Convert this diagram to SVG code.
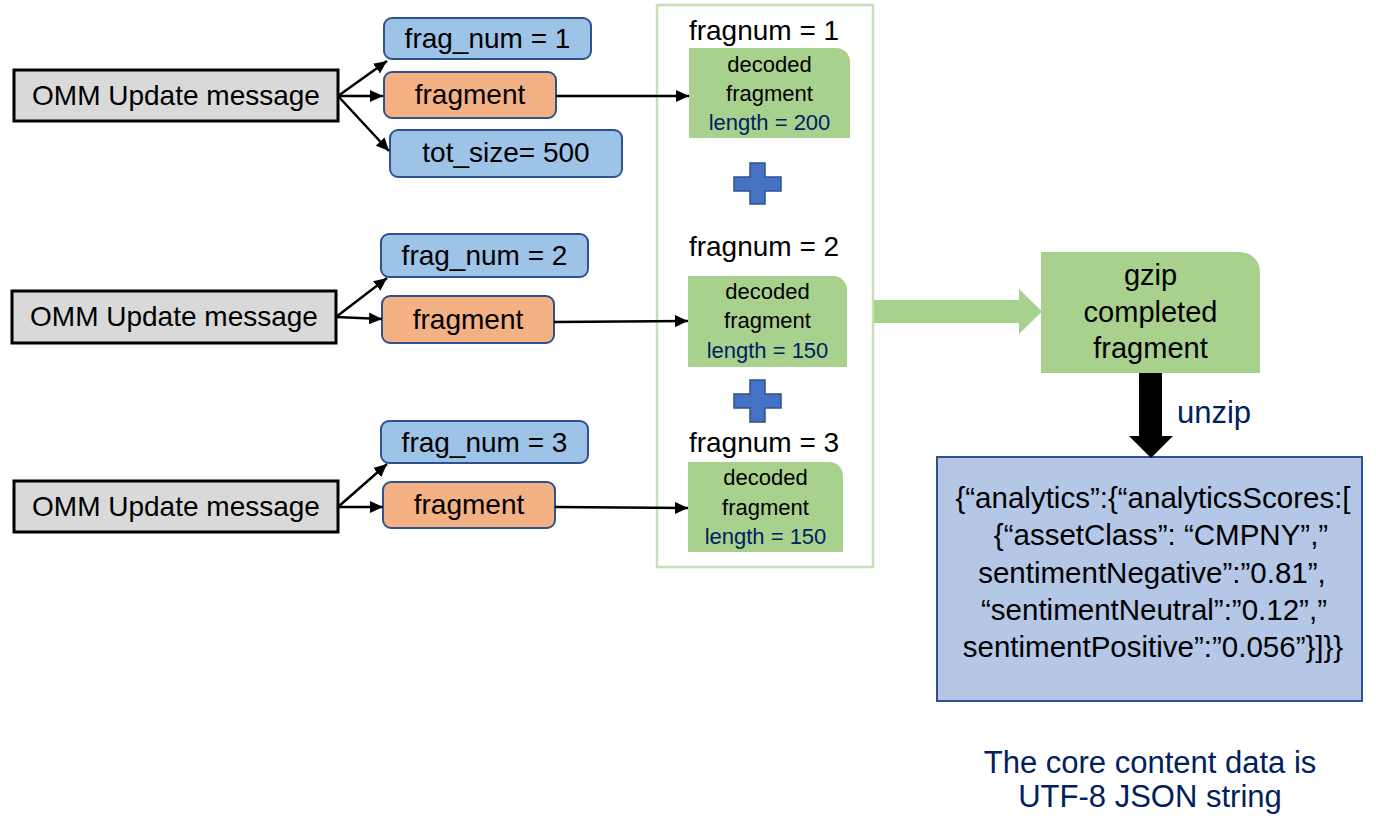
<svg xmlns="http://www.w3.org/2000/svg" width="1376" height="830" viewBox="0 0 1376 830">
<defs>
<marker id="ah" markerUnits="userSpaceOnUse" markerWidth="14" markerHeight="12" refX="13" refY="6" orient="auto">
<path d="M0,0 L13,6 L0,12 z" fill="#000"/>
</marker>
<style>
text{font-family:"Liberation Sans",Arial,sans-serif;fill:#000}
.omm{fill:#d9d9d9;stroke:#000;stroke-width:3}
.blue{fill:#9dc3e6;stroke:#2f528f;stroke-width:2}
.orange{fill:#f4b183;stroke:#2f528f;stroke-width:2}
.dec{fill:#a9d18e}
.t28{font-size:28px;text-anchor:middle}
.t22{font-size:22px;text-anchor:middle}
.navy{fill:#002060}
.conn{stroke:#000;stroke-width:2.5;fill:none;marker-end:url(#ah)}
.plus{fill:#4472c4;stroke:#2f528f;stroke-width:1.5}
</style>
</defs>
<rect width="1376" height="830" fill="#fff"/>

<g id="container">
<rect x="657" y="5" width="216" height="562" fill="none" stroke="#c5e0b4" stroke-width="2.5"/>
</g>

<g id="omm1"><rect class="omm" x="14" y="70" width="324" height="51"/><text class="t28" x="176" y="105">OMM Update message</text></g>
<g id="omm2"><rect class="omm" x="12" y="291" width="324" height="52"/><text class="t28" x="174" y="326">OMM Update message</text></g>
<g id="omm3"><rect class="omm" x="14" y="481" width="324" height="51"/><text class="t28" x="176" y="516">OMM Update message</text></g>

<g id="fragnum1box"><rect class="blue" x="384" y="18" width="207" height="41" rx="8"/><text class="t28" x="487.5" y="48">frag_num = 1</text></g>
<g id="fragment1"><rect class="orange" x="384" y="72" width="172" height="46" rx="8"/><text class="t28" x="470" y="104">fragment</text></g>
<g id="totsize"><rect class="blue" x="390" y="130" width="232" height="47" rx="8"/><text class="t28" x="506" y="162">tot_size= 500</text></g>

<g id="fragnum2box"><rect class="blue" x="381" y="234" width="207" height="43" rx="8"/><text class="t28" x="484.5" y="265">frag_num = 2</text></g>
<g id="fragment2"><rect class="orange" x="382" y="296" width="172" height="47" rx="8"/><text class="t28" x="468" y="329">fragment</text></g>

<g id="fragnum3box"><rect class="blue" x="381" y="421" width="207" height="42" rx="8"/><text class="t28" x="484.5" y="452">frag_num = 3</text></g>
<g id="fragment3"><rect class="orange" x="383" y="482" width="172" height="46" rx="8"/><text class="t28" x="469" y="514">fragment</text></g>

<g id="dec1">
<text class="t28" x="764" y="40">fragnum = 1</text>
<path class="dec" d="M689,48 H836 A14,14 0 0 1 850,62 V138 H689 Z"/>
<text class="t22" x="769.5" y="72">decoded</text>
<text class="t22" x="769.5" y="101">fragment</text>
<text class="t22 navy" x="769.5" y="130">length = 200</text>
</g>
<g id="dec2">
<text class="t28" x="764" y="256">fragnum = 2</text>
<path class="dec" d="M688,276 H833 A14,14 0 0 1 847,290 V367 H688 Z"/>
<text class="t22" x="767.5" y="299">decoded</text>
<text class="t22" x="767.5" y="328">fragment</text>
<text class="t22 navy" x="767.5" y="358">length = 150</text>
</g>
<g id="dec3">
<text class="t28" x="764" y="452">fragnum = 3</text>
<path class="dec" d="M688,462 H829 A14,14 0 0 1 843,476 V552 H688 Z"/>
<text class="t22" x="765.5" y="485">decoded</text>
<text class="t22" x="765.5" y="515">fragment</text>
<text class="t22 navy" x="765.5" y="544">length = 150</text>
</g>

<g id="plus1"><path class="plus" d="M750,163 H765 V177 H781 V191 H765 V204 H750 V191 H734 V177 H750 Z"/></g>
<g id="plus2"><path class="plus" d="M750,380 H765 V394 H781 V408 H765 V422 H750 V408 H734 V394 H750 Z"/></g>

<g id="gzip">
<path class="dec" d="M1041,252 H1240 A20,20 0 0 1 1260,272 V373 H1041 Z"/>
<text style="font-size:29px;text-anchor:middle" x="1150.5" y="285">gzip</text>
<text style="font-size:29px;text-anchor:middle" x="1150.5" y="322">completed</text>
<text style="font-size:29px;text-anchor:middle" x="1150.5" y="358">fragment</text>
</g>

<g id="json">
<rect x="937" y="457" width="425" height="244" fill="#b4c7e7" stroke="#2f528f" stroke-width="2"/>
<g style="font-size:29.5px;text-anchor:middle">
<text x="1153" y="508">{“analytics”:{“analyticsScores:[</text>
<text x="1161" y="545">{“assetClass”: “CMPNY”,”</text>
<text x="1152" y="583">sentimentNegative”:”0.81”,</text>
<text x="1154" y="620">“sentimentNeutral”:”0.12”,”</text>
<text x="1153" y="657">sentimentPositive”:”0.056”}]}}</text>
</g>
</g>

<g id="note">
<text class="navy" style="font-size:31px;text-anchor:middle" x="1150" y="773">The core content data is</text>
<text class="navy" style="font-size:31px;text-anchor:middle" x="1150" y="807">UTF-8 JSON string</text>
</g>

<g id="connectors">
<line class="conn" x1="338" y1="96" x2="387" y2="61"/>
<line class="conn" x1="338" y1="96" x2="383" y2="96"/>
<line class="conn" x1="338" y1="96" x2="389" y2="151"/>
<line class="conn" x1="336" y1="317" x2="387" y2="278"/>
<line class="conn" x1="336" y1="317" x2="382" y2="319"/>
<line class="conn" x1="338" y1="507" x2="387" y2="464"/>
<line class="conn" x1="338" y1="507" x2="383" y2="507"/>
<line class="conn" x1="556" y1="96" x2="689" y2="96"/>
<line class="conn" x1="554" y1="322" x2="688" y2="321"/>
<line class="conn" x1="555" y1="507" x2="688" y2="508"/>
<path d="M874,300 H1019 V289 L1042,311.5 L1019,334 V323 H874 Z" fill="#a9d18e"/>
<path d="M1139,373 H1162 V436 H1173 L1151,458 L1129,436 H1139 Z" fill="#000"/>
<text class="navy" style="font-size:31px" x="1177" y="423">unzip</text>
</g>
</svg>
